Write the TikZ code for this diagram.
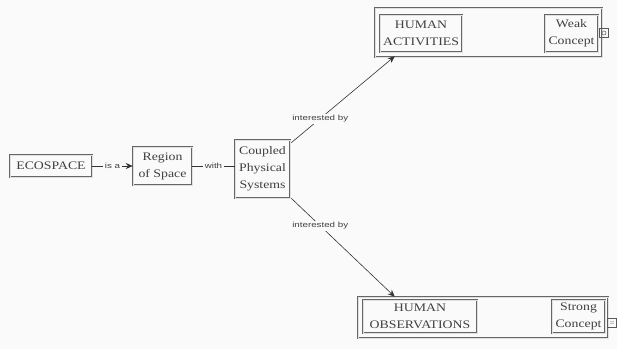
\documentclass[tikz,border=0pt]{standalone}
\usepackage{fontspec}
\setmainfont{Liberation Serif}
\newfontfamily\boxfont[FakeStretch=1.2]{Liberation Serif}
\newfontfamily\lblfont[FakeStretch=1.3]{Liberation Sans}
\usetikzlibrary{arrows.meta,calc}
\begin{document}
\begin{tikzpicture}[x=1pt,y=-1pt,
  box/.style={draw=black!60, line width=0.5pt, double=black!12, double distance=0.6pt,
              inner sep=0pt, align=center, text=black!75, font=\boxfont\fontsize{11.5}{17}\selectfont},
  group/.style={draw=black!60, line width=0.5pt, double=black!12, double distance=0.6pt,
              inner sep=0pt},
  icon/.style={draw=black!65, line width=0.6pt, inner sep=0pt, minimum size=9pt},
  link/.style={draw=black!80, line width=0.6pt},
  arrowlink/.style={link, -{Stealth[length=7pt,width=6pt]}},
  lbl/.style={fill=black!2, inner sep=1.5pt, text=black!75, font=\lblfont\fontsize{7.5}{8}\selectfont}]
  \useasboundingbox (0,0) rectangle (617,349);
  \fill[black!2] (0,0) rectangle (617,349);

  % main chain
  \node[box, minimum width=82pt, minimum height=22pt] (eco) at (51,166) {ECOSPACE};
  \node[box, minimum width=59pt, minimum height=38pt] (region) at (162.5,166) {Region\\of Space};
  \node[box, minimum width=55pt, minimum height=58pt] (coupled) at (262.5,169) {Coupled\\Physical\\Systems};

  % upper concept group
  \node[group, minimum width=227pt, minimum height=49pt] (actGroup) at (488.5,32.5) {};
  \node[box, minimum width=82pt, minimum height=37pt] (act) at (421,33.5) {HUMAN\\ACTIVITIES};
  \node[box, minimum width=53pt, minimum height=37pt] (weak) at (571.5,33.5) {Weak\\Concept};
  \node[icon] (weakIcon) at (604,33) {};
  \node[draw=black!65, line width=0.5pt, circle, inner sep=0pt, minimum size=4pt] (weakDot) at (weakIcon) {};

  % lower concept group
  \node[group, minimum width=250pt, minimum height=41pt] (obsGroup) at (483,317.5) {};
  \node[box, minimum width=114pt, minimum height=33pt] (obs) at (420,316.5) {HUMAN\\OBSERVATIONS};
  \node[box, minimum width=53pt, minimum height=33pt] (strong) at (578.5,316.5) {Strong\\Concept};
  \node[icon, font=\fontsize{6}{6}\selectfont, text=black!75] (strongIcon) at (612,323) {\textbf{::}};

  % connectors
  \coordinate (actTip) at ([xshift=15pt,yshift=-4pt]act.south west);
  \coordinate (obsTip) at ([xshift=37pt]obsGroup.north west);
  \draw[arrowlink] (eco.east) -- node[lbl] {is a} (region.west);
  \draw[link] (region.east) -- node[lbl] {with} (coupled.west |- region.east);
  \draw[arrowlink] ([xshift=1pt,yshift=-3pt]coupled.north east) -- node[lbl, pos=0.28] {interested by} (actTip);
  \draw[arrowlink] ([xshift=1pt]coupled.south east) -- node[lbl, pos=0.28] {interested by} (obsTip);
\end{tikzpicture}
\end{document}
